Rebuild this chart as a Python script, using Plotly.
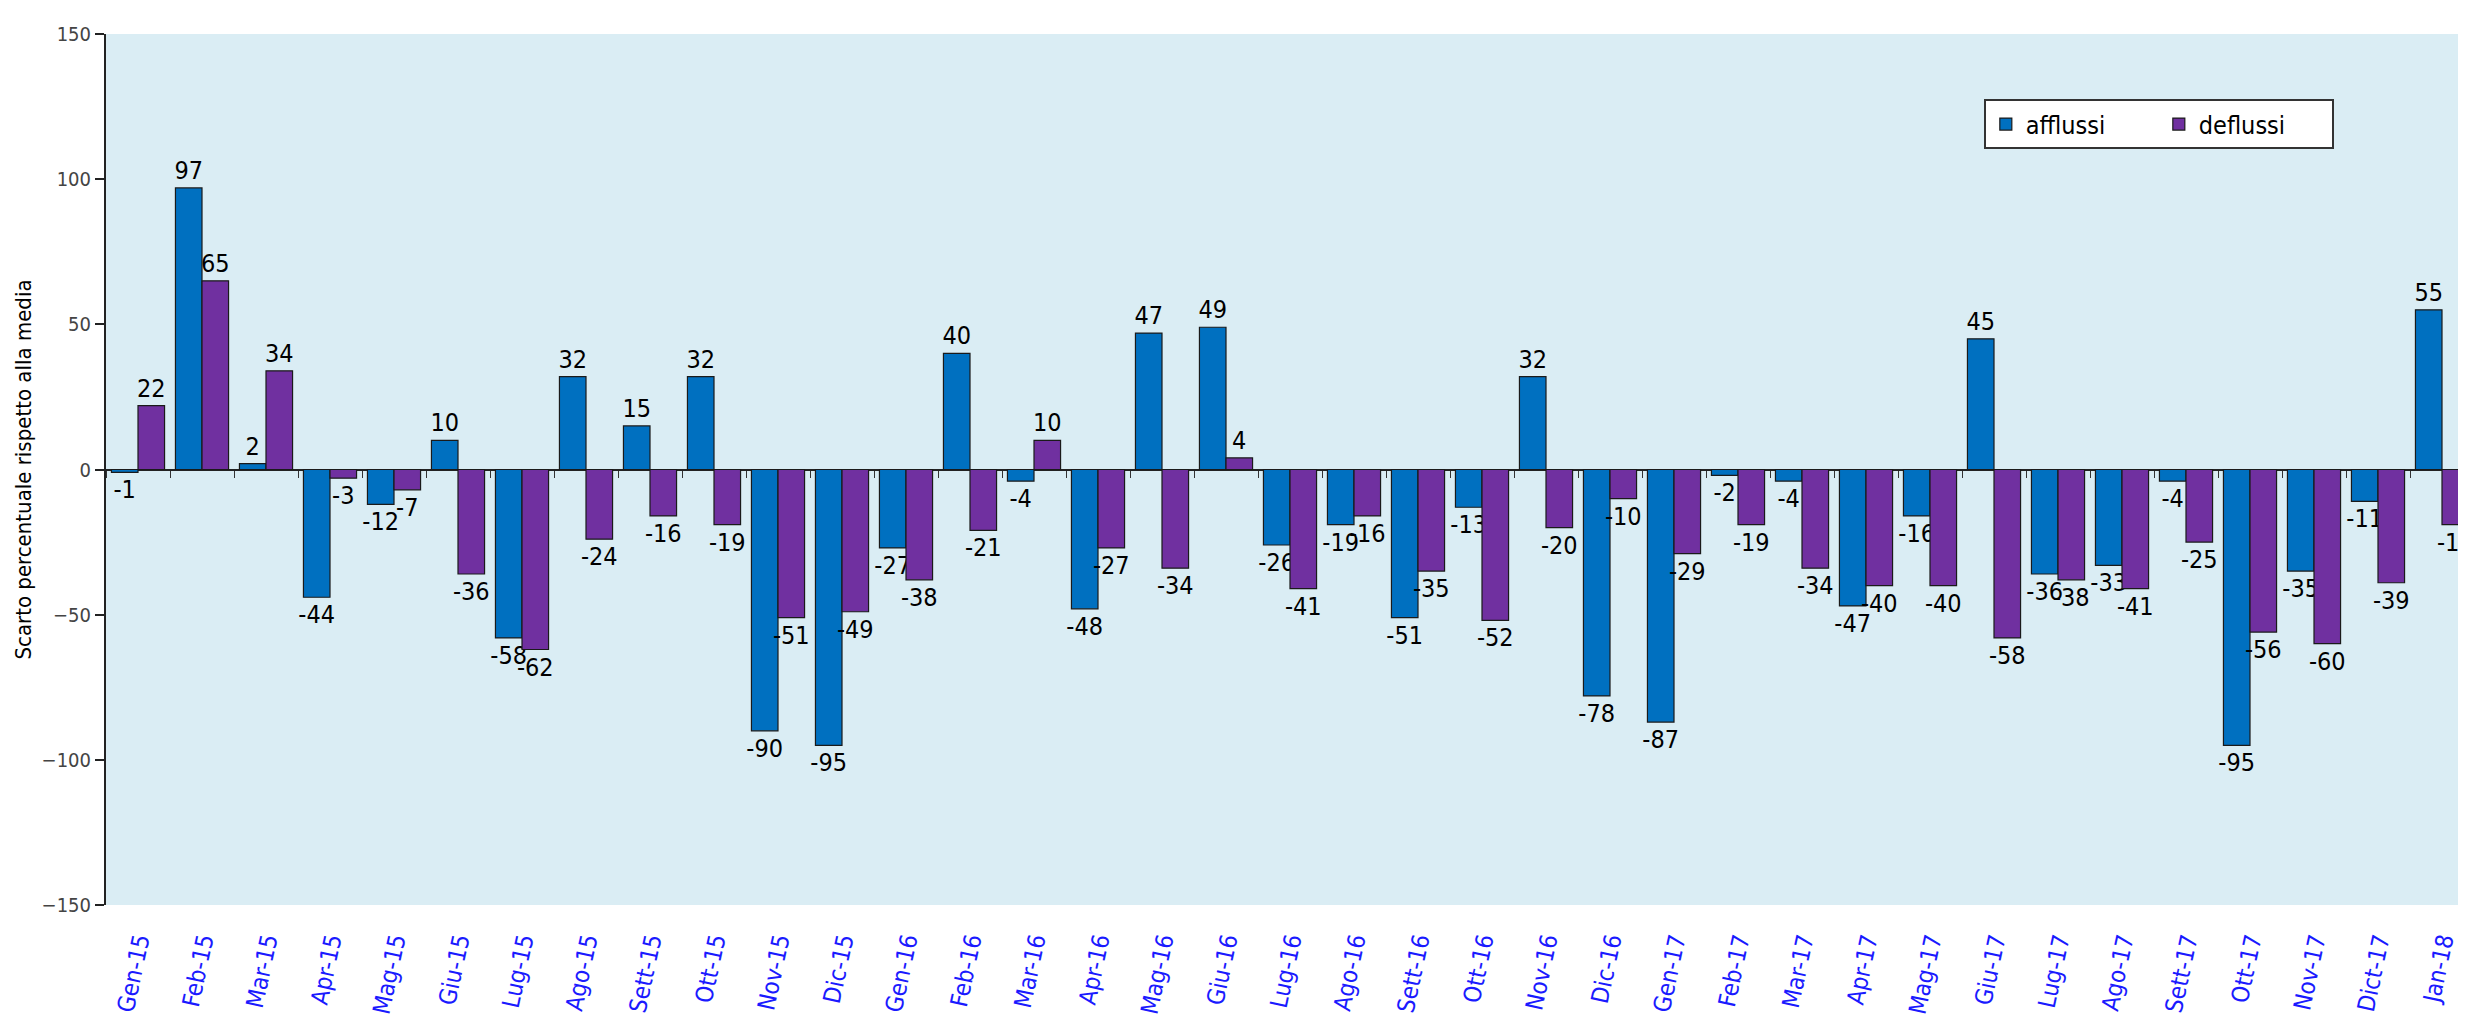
import plotly.graph_objects as go

categories = ["Gen-15","Feb-15","Mar-15","Apr-15","Mag-15","Giu-15","Lug-15","Ago-15","Sett-15","Ott-15",
              "Nov-15","Dic-15","Gen-16","Feb-16","Mar-16","Apr-16","Mag-16","Giu-16","Lug-16","Ago-16",
              "Sett-16","Ott-16","Nov-16","Dic-16","Gen-17","Feb-17","Mar-17","Apr-17","Mag-17","Giu-17",
              "Lug-17","Ago-17","Sett-17","Ott-17","Nov-17","Dict-17","Jan-18"]
afflussi = [-1, 97, 2, -44, -12, 10, -58, 32, 15, 32,
            -90, -95, -27, 40, -4, -48, 47, 49, -26, -19,
            -51, -13, 32, -78, -87, -2, -4, -47, -16, 45,
            -36, -33, -4, -95, -35, -11, 55]
deflussi = [22, 65, 34, -3, -7, -36, -62, -24, -16, -19,
            -51, -49, -38, -21, 10, -27, -34, 4, -41, -16,
            -35, -52, -20, -10, -29, -19, -34, -40, -40, -58,
            -38, -41, -25, -56, -60, -39, -19]
y_ticks = [-150, -100, -50, 0, 50, 100, 150]

FONT = "DejaVu Sans Condensed, DejaVu Sans, sans-serif"

fig = go.Figure()
fig.add_trace(go.Bar(
    x=categories, y=afflussi, name="afflussi",
    marker=dict(color="#0070C0", line=dict(color="#1a1a1a", width=1.2)),
    text=[str(v) for v in afflussi], textposition="outside",
    textfont=dict(family=FONT, size=25, color="black"),
    cliponaxis=False, constraintext="none",
))
fig.add_trace(go.Bar(
    x=categories, y=deflussi, name="deflussi",
    marker=dict(color="#7030A0", line=dict(color="#1a1a1a", width=1.2)),
    text=[str(v) for v in deflussi], textposition="outside",
    textfont=dict(family=FONT, size=25, color="black"),
    cliponaxis=False, constraintext="none",
))

fig.update_layout(
    width=2466, height=1019,
    margin=dict(l=98, r=0, t=26, b=122),
    paper_bgcolor="white",
    plot_bgcolor="#DAEDF4",
    barmode="group", bargap=0.17, bargroupgap=0,
    font=dict(family=FONT, color="black"),
    showlegend=True,
    legend=dict(
        orientation="h", x=0.793, y=0.925, xanchor="left", yanchor="top",
        bgcolor="white", bordercolor="#333333", borderwidth=2,
        font=dict(family=FONT, size=25, color="black"),
        entrywidth=128, itemwidth=30, traceorder="normal",
    ),
    xaxis=dict(
        type="category", range=[-0.5, 36.5],
        showline=False, ticks="", showgrid=False,
        tickangle=-78, ticklabelstandoff=16,
        tickfont=dict(family=FONT, size=24, color="#1a1aff"),
    ),
    xaxis2=dict(
        type="category", overlaying="x", matches="x", anchor="free", position=0.5,
        range=[-0.5, 36.5], showline=False, showgrid=False,
        ticks="outside", tickson="boundaries", ticklen=7, tickcolor="#333333",
        showticklabels=False,
    ),
    yaxis=dict(
        range=[-150, 150], tickvals=y_ticks, showgrid=False,
        showline=True, linecolor="#222222", linewidth=2,
        ticks="outside", ticklen=9, tickcolor="#222222", tickwidth=2,
        zeroline=True, zerolinecolor="#222222", zerolinewidth=2,
        tickfont=dict(family=FONT, size=20, color="#444444"),
        title=dict(text="Scarto percentuale rispetto alla media",
                   font=dict(family=FONT, size=22, color="black"), standoff=4),
    ),
)

# invisible trace to materialize the zero-line tick axis
fig.add_trace(go.Bar(x=categories, y=[0]*len(categories), xaxis="x2",
                     showlegend=False, hoverinfo="skip", marker=dict(opacity=0)))

fig.write_html("out.html")
